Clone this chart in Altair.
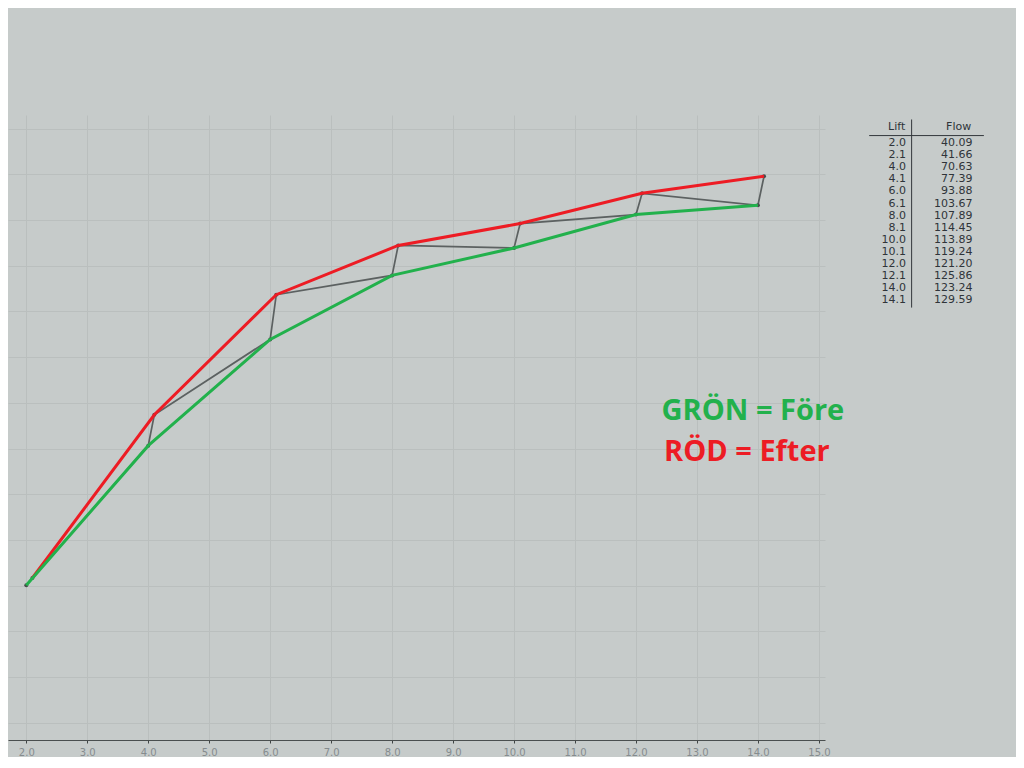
import altair as alt
import pandas as pd

# ---- data ----
lift = [2.0, 2.1, 4.0, 4.1, 6.0, 6.1, 8.0, 8.1, 10.0, 10.1, 12.0, 12.1, 14.0, 14.1]
flow = [40.09, 41.66, 70.63, 77.39, 93.88, 103.67, 107.89, 114.45,
        113.89, 119.24, 121.20, 125.86, 123.24, 129.59]
x_ticks = [2, 3, 4, 5, 6, 7, 8, 9, 10, 11, 12, 13, 14, 15]
y_grid = [10, 20, 30, 40, 50, 60, 70, 80, 90, 100, 110, 120, 130, 140]

legend_text = ["GRÖN = Före", "RÖD = Efter"]
legend_color = ["#22b14c", "#ed1c24"]
legend_lift = [12.42, 12.46]
legend_flow = [78.2, 69.2]

table_header = ["Lift", "Flow"]

# ---- tables built from the lists ----
df_all = pd.DataFrame({"idx": list(range(len(lift))), "lift": lift, "flow": flow})
df_fore = df_all.iloc[0::2]
df_efter = df_all.iloc[1::2]
df_leg = pd.DataFrame({"text": legend_text, "color": legend_color,
                       "lift": legend_lift, "flow": legend_flow})

BG = "#c6cbca"
GRID = "#babfbe"

xenc = alt.X("lift:Q", title=None,
             scale=alt.Scale(domain=[1.7, 15.1], nice=False, zero=False),
             axis=alt.Axis(values=x_ticks, format=".1f", labelFont="DejaVu Sans",
                           labelFontSize=10, labelColor="#858b8e", tickColor="#3f4444",
                           tickSize=3, domainColor="#4a4f4f", domainWidth=1.2,
                           gridColor=GRID, gridWidth=1, labelPadding=4))
yenc = alt.Y("flow:Q", title=None,
             scale=alt.Scale(domain=[6.2, 143], nice=False, zero=False),
             axis=alt.Axis(values=y_grid, labels=False, ticks=False, domain=False,
                           gridColor=GRID, gridWidth=1))

gray = alt.Chart(df_all).mark_line(
    color="#5c6161", strokeWidth=1.7,
    point=alt.OverlayMarkDef(color="#474c4c", size=16, filled=True)
).encode(x=xenc, y=yenc, order="idx:Q")

green = alt.Chart(df_fore).mark_line(color="#22b14c", strokeWidth=3).encode(x=xenc, y=yenc)
red = alt.Chart(df_efter).mark_line(color="#ed1c24", strokeWidth=3).encode(x=xenc, y=yenc)

legend = alt.Chart(df_leg).mark_text(
    align="left", baseline="middle", font="Open Sans", fontSize=29, fontWeight="bold"
).encode(x=xenc, y=yenc, text="text:N", color=alt.Color("color:N", scale=None))

main = alt.layer(gray, red, green, legend).properties(width=817, height=625)

# ---- value table (right side) ----
rows = []
for i, (l, f) in enumerate(zip(lift, flow)):
    rows.append({"row": i, "col": 40, "txt": f"{l:.1f}"})
    rows.append({"row": i, "col": 98, "txt": f"{f:.2f}"})
df_tab = pd.DataFrame(rows)
df_head = pd.DataFrame({"row": [-1.3, -1.3], "col": [32, 86], "txt": table_header})
df_hline = pd.DataFrame({"row": [-0.62], "c1": [8], "c2": [108]})
df_vline = pd.DataFrame({"col": [45], "r1": [-1.95], "r2": [13.6]})

tx = alt.Scale(domain=[0, 136], nice=False, zero=False)
ty = alt.Scale(domain=[-2.32, 13.8], nice=False, zero=False, reverse=True)

tab_vals = alt.Chart(df_tab).mark_text(
    align="right", baseline="middle", font="DejaVu Sans", fontSize=11, color="#2f3439"
).encode(x=alt.X("col:Q", scale=tx, axis=None),
         y=alt.Y("row:Q", scale=ty, axis=None), text="txt:N")
tab_head = alt.Chart(df_head).mark_text(
    align="center", baseline="middle", font="DejaVu Sans", fontSize=11, color="#2f3439"
).encode(x=alt.X("col:Q", scale=tx, axis=None),
         y=alt.Y("row:Q", scale=ty, axis=None), text="txt:N")
tab_hline = alt.Chart(df_hline).mark_rule(color="#33383c", strokeWidth=1).encode(
    x=alt.X("c1:Q", scale=tx, axis=None), x2="c2:Q",
    y=alt.Y("row:Q", scale=ty, axis=None))
tab_vline = alt.Chart(df_vline).mark_rule(color="#33383c", strokeWidth=1).encode(
    x=alt.X("col:Q", scale=tx, axis=None),
    y=alt.Y("r1:Q", scale=ty, axis=None), y2="r2:Q")

table = alt.layer(tab_hline, tab_vline, tab_head, tab_vals).properties(width=156, height=195)

chart = alt.hconcat(main, table, spacing=15).properties(
    padding={"top": 107, "left": 0, "right": 0, "bottom": 0}
).configure(background=BG).configure_view(strokeWidth=0)

chart.save("out.html", embed_options={"renderer": "svg", "actions": False})
